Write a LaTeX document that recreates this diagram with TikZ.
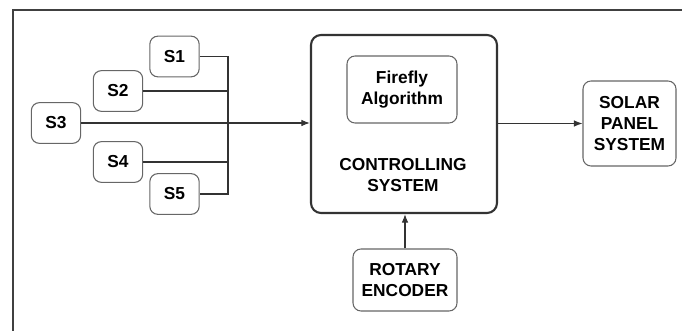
\documentclass[tikz,border=0pt]{standalone}
\usepackage{fontspec}
\setmainfont{Liberation Sans}
\usetikzlibrary{arrows.meta}
\begin{document}
\begin{tikzpicture}[x=0.75pt,y=-0.75pt,
  lbl/.style={font=\fontsize{13}{15.75}\selectfont\bfseries, align=center, text=black},
  sbox/.style={lbl, draw=black!60, line width=0.8pt, rounded corners=6pt, inner sep=0pt},
  ctrlbox/.style={draw=black!80, line width=1.6pt, rounded corners=7.5pt, inner sep=0pt, minimum width=139.5pt, minimum height=133.5pt},
  wire/.style={draw=black!80, line width=0.8pt},
  arr/.style={wire, -{Latex[length=6.5pt,width=5pt]}},
  frame/.style={draw=black!75, line width=1.4pt}]
\useasboundingbox (0,0) rectangle (682,331);
\draw[frame] (13,331) -- (13,10) -- (682,10);
% sensors
\node[sbox, minimum width=37pt, minimum height=30.5pt] (s1) at (174.5,56.5) {S1};
\node[sbox, minimum width=37pt, minimum height=30.5pt] (s2) at (118,91) {S2};
\node[sbox, minimum width=37pt, minimum height=30.5pt] (s3) at (56,123) {S3};
\node[sbox, minimum width=37pt, minimum height=30.5pt] (s4) at (118,162) {S4};
\node[sbox, minimum width=37pt, minimum height=30.5pt] (s5) at (174.5,194) {S5};
% controller
\node[ctrlbox] (ctrl) at (404,124) {};
\node[sbox, minimum width=82.5pt, minimum height=50.25pt] (ff) at (402,89.5) {Firefly\\Algorithm};
\node[lbl] (ctrltxt) at (403,175) {CONTROLLING\\SYSTEM};
% solar
\node[sbox, minimum width=69.75pt, minimum height=63.75pt] (solar) at (629.5,123.5) {SOLAR\\PANEL\\SYSTEM};
% rotary
\node[sbox, minimum width=78pt, minimum height=46.5pt] (rot) at (405,280) {ROTARY\\ENCODER};
% bus
\coordinate (bt) at (228,56.5);
\coordinate (bb) at (228,194);
\draw[wire] (s1.east) -- (bt) -- (bb) -- (s5.east);
\draw[wire] (s2.east) -- (s2.east -| bt);
\draw[wire] (s4.east) -- (s4.east -| bt);
\draw[arr] (s3.east) -- (s3.east -| ctrl.west);
\draw[arr] (ctrl.east |- solar.west) -- (solar.west);
\draw[arr] (rot.north) -- (rot.north |- ctrl.south);
\end{tikzpicture}
\end{document}
